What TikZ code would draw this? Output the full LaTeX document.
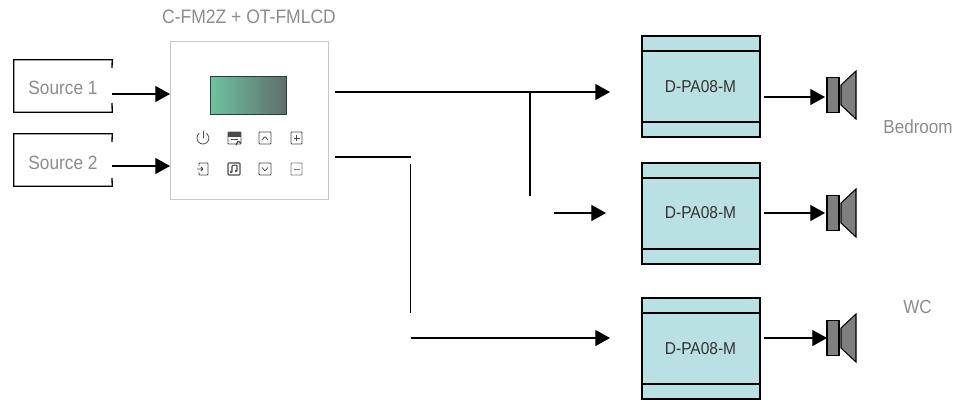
\documentclass[tikz,border=0pt]{standalone}
\usepackage{fontspec}
\setmainfont{Liberation Sans}[FakeStretch=0.9]
\usetikzlibrary{arrows.meta}
\definecolor{ampfill}{HTML}{B9E0E3}
\definecolor{labelgray}{HTML}{8C8C8C}
\definecolor{iconcol}{HTML}{4A4A4A}
\definecolor{lcdA}{HTML}{6FC2A0}
\definecolor{lcdB}{HTML}{5F6F6C}
\definecolor{lcdEdge}{HTML}{24403A}
\definecolor{spk}{HTML}{7F7F7F}
\tikzset{
  x=0.75pt,y=-0.75pt,
  srcbox/.style={fill=white,minimum width=73.5pt,minimum height=39pt,inner sep=0pt,text=labelgray,font=\fontsize{14.4}{16}\selectfont},
  srcedge/.style={draw=black,line width=1pt},
  ampbox/.style={draw=black,line width=0.9pt,fill=ampfill,minimum width=88.5pt,inner sep=0pt},
  amptext/.style={text=black!80,inner sep=0pt,font=\fontsize{12.9}{14}\selectfont},
  sideline/.style={draw=black,line width=0.9pt},
  wire/.style={draw=black,line width=0.9pt},
  arrowwire/.style={wire,-{Triangle[length=11pt,width=12pt]}},
  caption/.style={text=labelgray,inner sep=0pt,font=\fontsize{14.2}{16}\selectfont},
  spkbody/.style={draw=black,line width=0.8pt,fill=spk},
  iconln/.style={draw=iconcol,line width=0.6pt,rounded corners=0.6pt},
}
\newcommand{\AmpBox}[3]{% name, top y, bottom y
  \node[ampbox,minimum height={(#3-#2)*0.75pt}] (#1) at (701,{(#2+#3)/2}) {};
  \draw[sideline] (642,#2+15) -- (760,#2+15);
  \draw[sideline] (642,#3-15) -- (760,#3-15);
}
\newcommand{\Speaker}[2]{% name, center y
  \fill[spk,draw=black,line width=0.8pt] (841,#2-10) -- (856,#2-24) -- (856,#2+24) -- (841,#2+10) -- cycle;
  \node[spkbody,minimum width=9pt,minimum height=26pt,inner sep=0pt] (#1) at (833,#2) {};
}
\begin{document}
\begin{tikzpicture}
\useasboundingbox (0,0) rectangle (968,401);
% sources
\node[srcbox] (s1) at (63,86) {};
\node[srcbox] (s2) at (63,160) {};
\draw[srcedge] (112,68) -- (s1.north east) -- (s1.north west) -- (s1.south west) -- (s1.south east) -- (112,103);
\draw[srcedge] (112,142) -- (s2.north east) -- (s2.north west) -- (s2.south west) -- (s2.south east) -- (112,178);
\node[text=labelgray,inner sep=0pt,font=\fontsize{14.4}{16}\selectfont] (s1t) at (63,88) {Source 1};
\node[text=labelgray,inner sep=0pt,font=\fontsize{14.4}{16}\selectfont] (s2t) at (63,163) {Source 2};
% controller
\node[draw=black!22,fill=white,line width=0.6pt,minimum width=118.5pt,minimum height=118.5pt,inner sep=0pt] (ctrl) at (249,120) {};
\node[caption,font=\fontsize{14.6}{16}\selectfont] (cap) at (249,17) {C-FM2Z + OT-FMLCD};
\shade[left color=lcdA,right color=lcdB] (210,76) rectangle (286,114);
\draw[lcdEdge,line width=0.7pt] (210,76) rectangle (286,114);
% icons row 1
\draw[iconln,line cap=round] (203,131) -- (203,138);
\draw[iconln,line cap=round] (199.1,133.4) arc[start angle=130,end angle=410,radius=4.5pt];
\draw[iconln] (228,132) rectangle (241,144);
\fill[iconcol] (228,132) rectangle (241,137);
\draw[iconln] (231,139) -- (238,139);
\draw[iconln,line width=0.9pt] (236,145) -- (238,141) -- (241,143);
\draw[iconln] (259,132) rectangle (271,144);
\draw[iconln] (262,140) -- (265,136.5) -- (268,140);
\draw[iconln] (291,132) rectangle (302,144);
\draw[iconln] (293.5,138) -- (299.5,138) (296.5,135) -- (296.5,141);
% icons row 2
\draw[iconln] (199,166) -- (199,163) -- (208,163) -- (208,175) -- (199,175) -- (199,172);
\draw[iconln] (197,169) -- (203,169) (201,167) -- (203,169) -- (201,171);
\draw[iconln,line width=0.8pt] (228,163) rectangle (240,175);
\draw[iconln,line width=0.8pt] (232,172) -- (232,165.5) -- (237,165) -- (237,171);
\fill[iconcol] (231,172) circle[radius=1pt] (236,171) circle[radius=1pt];
\draw[iconln] (259,163) rectangle (271,175);
\draw[iconln] (262,167.5) -- (265,171) -- (268,167.5);
\draw[iconln,draw=iconcol!70] (291,163) rectangle (302,175);
\draw[iconln,draw=iconcol!70] (293.5,169) -- (299.5,169);
% amps
\AmpBox{a1}{36}{137}
\AmpBox{a2}{163}{264}
\AmpBox{a3}{298}{399}
\node[amptext] (a1t) at (700.5,87) {D-PA08-M};
\node[amptext] (a2t) at (700.5,213) {D-PA08-M};
\node[amptext] (a3t) at (700.5,349) {D-PA08-M};
% speakers
\Speaker{sp1}{95}
\Speaker{sp2}{213}
\Speaker{sp3}{338}
% labels
\node[caption] (bed) at (918,127) {Bedroom};
\node[caption] (wc) at (917.5,307) {WC};
% coordinates
\coordinate (c1) at (112,94);
\coordinate (c1e) at (170,94);
\coordinate (c2) at (112,166);
\coordinate (c2e) at (170,166);
\coordinate (o1) at (335,92);
\coordinate (o1e) at (610,92);
\coordinate (j1) at (530,92);
\coordinate (j1e) at (530,196);
\coordinate (o2s) at (554,213);
\coordinate (o2e) at (606,213);
\coordinate (o3) at (335,157);
\coordinate (o3e) at (411,157);
\coordinate (v1) at (410.5,164);
\coordinate (v1e) at (410.5,313);
\coordinate (o4) at (411,338);
\coordinate (o4e) at (610,338);
\coordinate (r1) at (764,97);
\coordinate (r1e) at (825,97);
\coordinate (r2) at (764,213);
\coordinate (r2e) at (825,213);
\coordinate (r3) at (764,338);
\coordinate (r3e) at (827,338);
% connectors
\draw[arrowwire] (c1) -- (c1e);
\draw[arrowwire] (c2) -- (c2e);
\draw[arrowwire,line width=1.1pt] (o1) -- (o1e);
\draw[wire] (j1) -- (j1e);
\draw[arrowwire] (o2s) -- (o2e);
\draw[wire] (o3) -- (o3e);
\draw[wire] (v1) -- (v1e);
\draw[arrowwire] (o4) -- (o4e);
\draw[arrowwire] (r1) -- (r1e);
\draw[arrowwire] (r2) -- (r2e);
\draw[arrowwire] (r3) -- (r3e);
\end{tikzpicture}
\end{document}
